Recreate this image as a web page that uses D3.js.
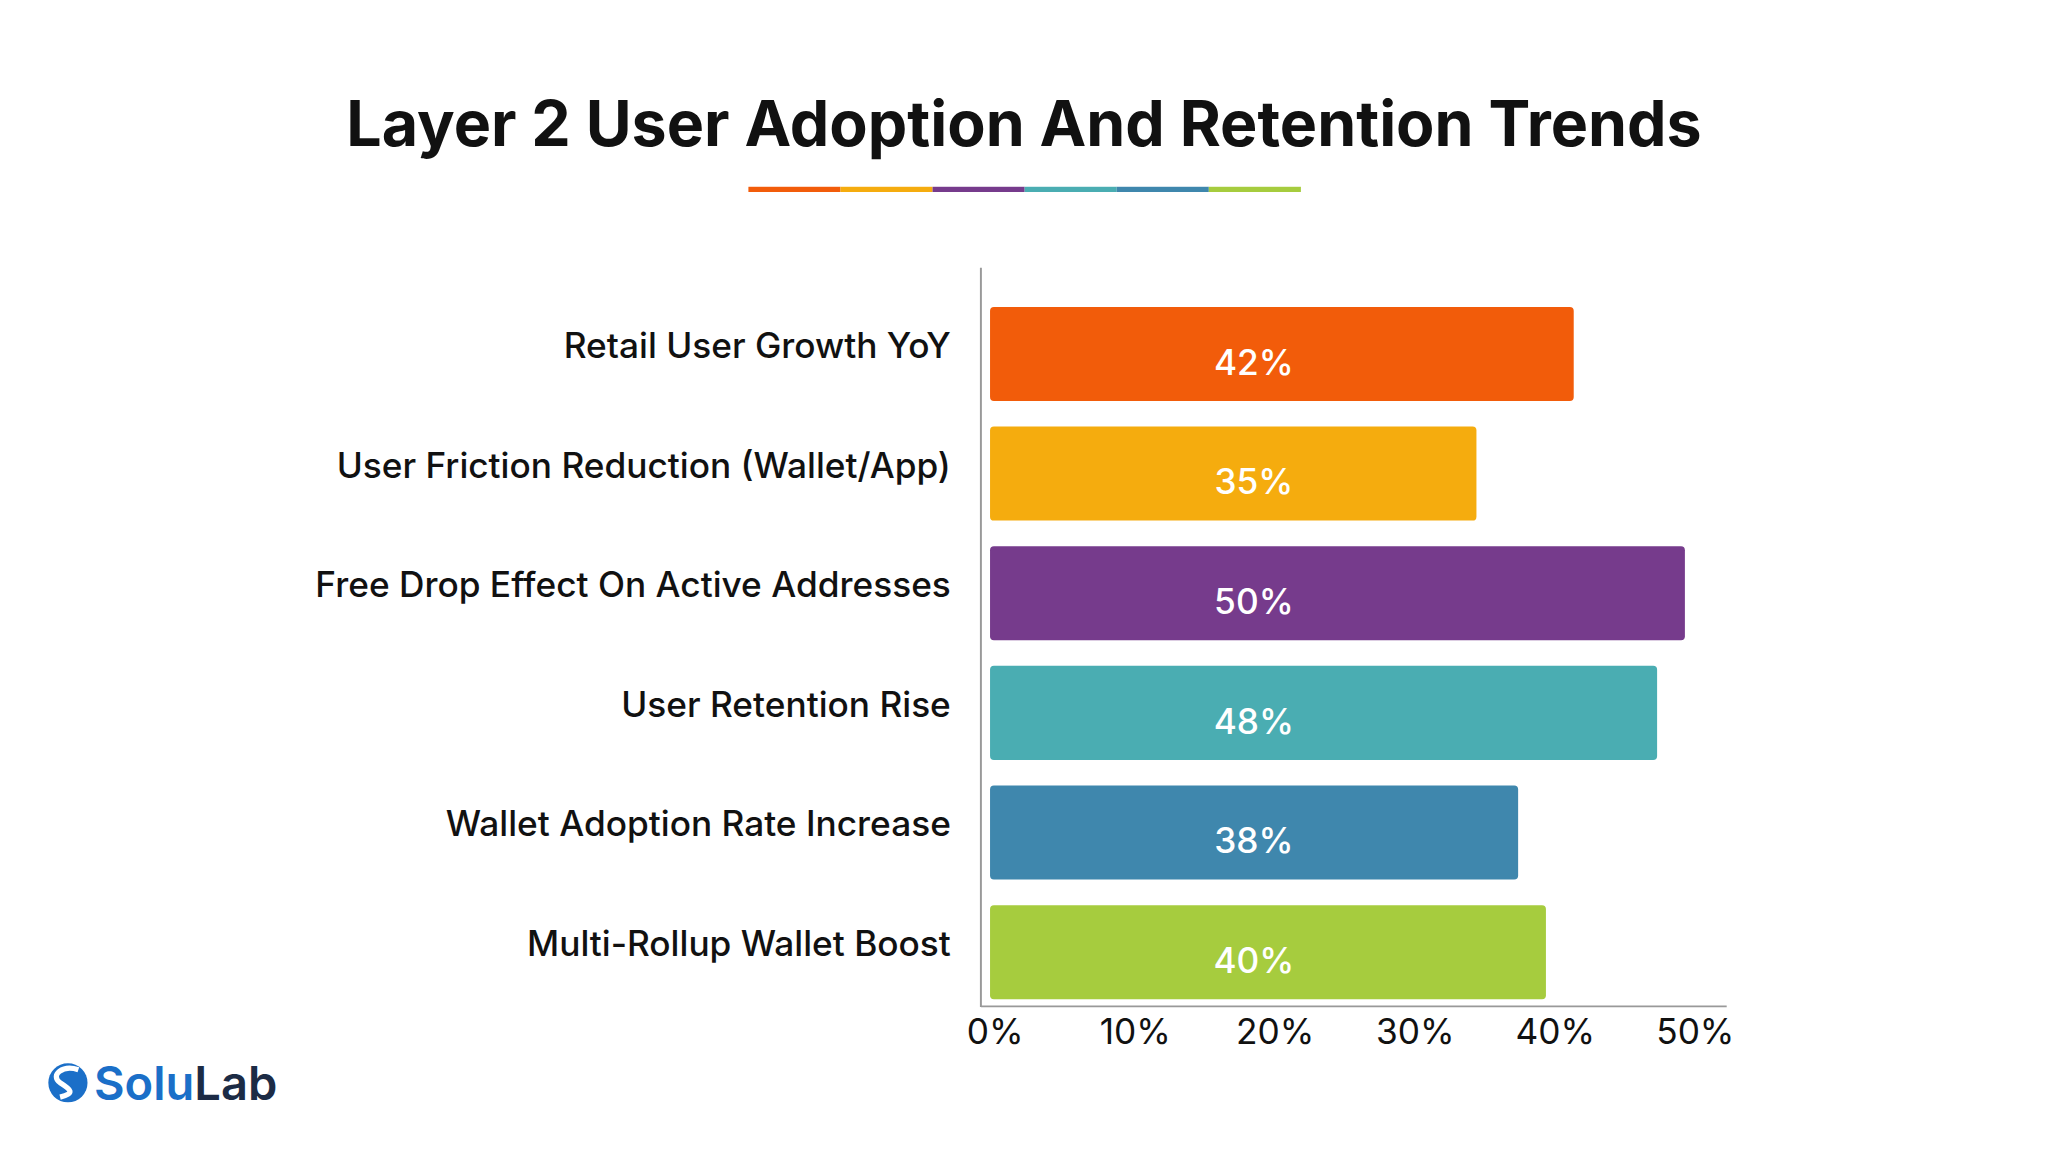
<!DOCTYPE html>
<html><head><meta charset="utf-8">
<script src="https://cdn.jsdelivr.net/npm/d3@7/dist/d3.min.js"></script>
<style>html,body{margin:0;padding:0;background:#fff;overflow:hidden}</style>
</head><body>
<script>
const categories = ["Retail User Growth YoY","User Friction Reduction (Wallet/App)","Free Drop Effect On Active Addresses","User Retention Rise","Wallet Adoption Rate Increase","Multi-Rollup Wallet Boost"];
const values = [42,35,50,48,38,40];
const colors = ["#F25C0A","#F5AC0E","#763B8C","#4AADB2","#3F87AD","#A6CC3E"];
const ticks = [0,10,20,30,40,50];
const tickLabels = ["0%","10%","20%","30%","40%","50%"];

const svg = d3.select("body").append("svg")
  .attr("width",2048).attr("height",1152).attr("viewBox","0 0 1568 882");
const font = "Inter, 'Noto Sans', sans-serif";

svg.append("text").attr("x",784).attr("y",112).attr("text-anchor","middle")
  .attr("font-family",font).attr("font-weight",700).attr("font-size",48)
  .attr("fill","#111").text("Layer 2 User Adoption And Retention Trends");

const ux = d3.scaleBand().domain(d3.range(colors.length)).range([573,996]);
svg.selectAll("rect.ul").data(colors).join("rect")
  .attr("x",(d,i)=>ux(i)).attr("y",143).attr("width",ux.bandwidth()).attr("height",4).attr("fill",d=>d);

const x = d3.scaleLinear().domain([0,50]).range([758,1290]);
const y = d3.scaleBand().domain(categories).range([235,765]).paddingInner(0.214).paddingOuter(0);

svg.append("line").attr("x1",751).attr("x2",751).attr("y1",205).attr("y2",771).attr("stroke","#999").attr("stroke-width",1.5);
svg.append("line").attr("x1",751).attr("x2",1322).attr("y1",770.5).attr("y2",770.5).attr("stroke","#999").attr("stroke-width",1.5);

svg.selectAll("rect.bar").data(values).join("rect")
  .attr("x",x(0)).attr("y",(d,i)=>y(categories[i])).attr("width",d=>x(d)-x(0))
  .attr("height",y.bandwidth()).attr("rx",3).attr("fill",(d,i)=>colors[i]);

svg.selectAll("text.val").data(values).join("text")
  .attr("x",960).attr("y",(d,i)=>y(categories[i])+y.bandwidth()/2+16).attr("text-anchor","middle")
  .attr("font-family",font).attr("font-weight",500).attr("font-size",27).attr("fill","#fff").text(d=>d+"%");

svg.selectAll("text.cat").data(categories).join("text")
  .attr("x",728).attr("y",d=>y(d)+y.bandwidth()/2+3).attr("text-anchor","end")
  .attr("font-family",font).attr("font-weight",500).attr("font-size",27).attr("fill","#111").text(d=>d);

svg.selectAll("text.tick").data(ticks).join("text")
  .attr("x",(d)=>x(d)+4+d*0.08).attr("y",799).attr("text-anchor","middle")
  .attr("font-family",font).attr("font-weight",400).attr("font-size",27).attr("fill","#111")
  .text((d,i)=>tickLabels[i]);

// logo
const g = svg.append("g").attr("transform","translate(52,829)");
g.append("circle").attr("r",15).attr("fill","#1b6fc8");
g.append("path").attr("d","M8,-10 C-4,-14 -14,-6 -6,0 C2,5 6,8 -6,11").attr("stroke","#fff").attr("stroke-width",4).attr("fill","none");
const lt = svg.append("text").attr("x",72).attr("y",842).attr("font-family",font).attr("font-weight",600).attr("font-size",36);
lt.append("tspan").attr("fill","#1b6fc8").text("Solu");
lt.append("tspan").attr("fill","#1c2b45").text("Lab");
</script>
</body></html>
